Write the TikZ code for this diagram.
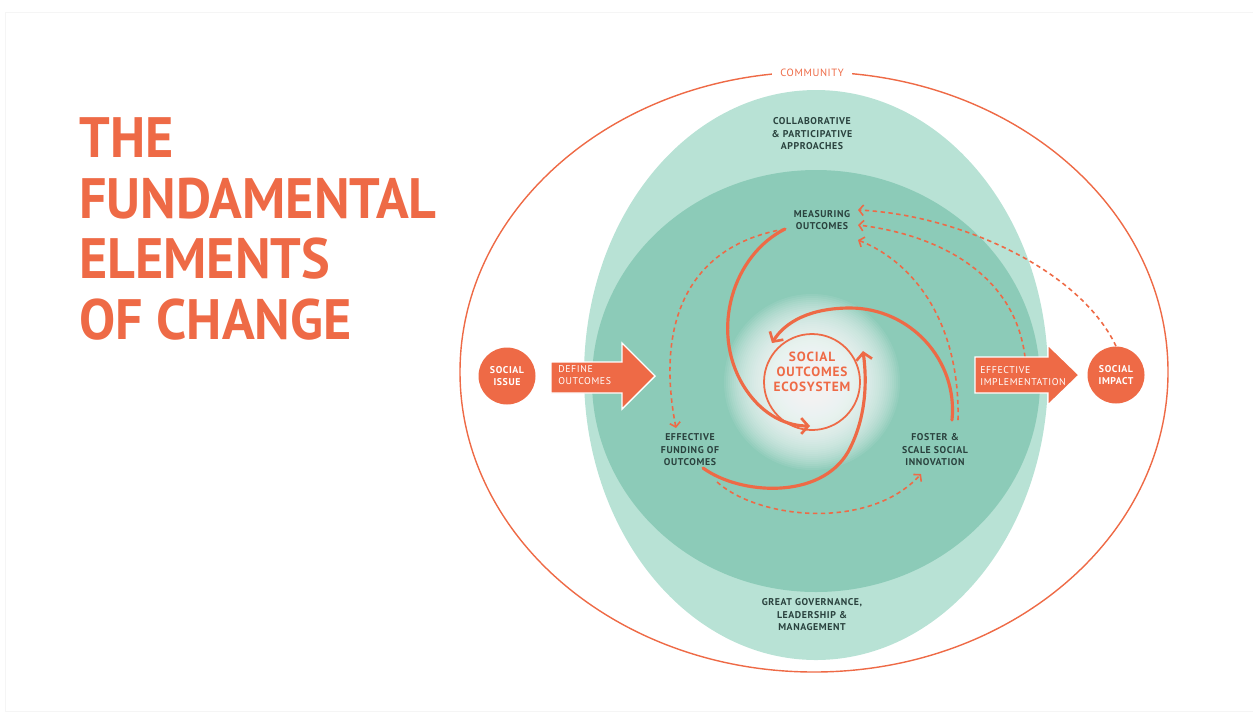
\documentclass[tikz,border=0pt]{standalone}
\usepackage{fontspec}
\setmainfont{PT Sans}
\newfontfamily\titlefont[FakeStretch=0.95]{PT Sans}
\newfontfamily\tagfont[LetterSpace=6]{PT Sans}
\usetikzlibrary{arrows.meta}
\definecolor{brick}{RGB}{238,106,70}
\definecolor{mint}{RGB}{184,226,213}
\definecolor{sea}{RGB}{140,203,184}
\definecolor{ink}{RGB}{42,66,62}

\begin{document}
\begin{tikzpicture}[x=0.02cm, y=-0.02cm,
    tag/.style={font=\tagfont\bfseries\fontsize{5.6}{7.1}\selectfont, text=ink, align=center, inner sep=0pt},
    bubble/.style={circle, fill=brick, text=white, minimum size=1.14cm, inner sep=0pt, align=center,
                   font=\tagfont\bfseries\fontsize{5.6}{7.1}\selectfont},
    blockarrow/.style={fill=brick, draw=white, line width=0.8pt},
    spiral/.style={brick, line width=1.8pt, line cap=round, -{Straight Barb[length=4pt,width=9pt,line width=1.5pt]}},
    feedback/.style={brick, line width=0.9pt, dash pattern=on 2.5pt off 2pt, -{Straight Barb[length=2.5pt,width=6pt]}}]

\useasboundingbox (0,0) rectangle (1253,711);
\draw[black!4] (5,12) rectangle (1253,711);

% Title
\node[anchor=north west, inner sep=0pt, align=left, text=brick,
      font=\titlefont\bfseries\fontsize{32.4}{34.6}\selectfont] (title) at (79,117)
      {THE\\FUNDAMENTAL\\ELEMENTS\\OF CHANGE};

% Community ring and the two green fields
\draw[brick, line width=0.8pt] (814,372) ellipse [x radius=354, y radius=300];
\node[fill=white, text=brick, inner xsep=5pt, inner ysep=1pt,
      font=\tagfont\fontsize{6}{7}\selectfont] (community) at (812,73) {COMMUNITY};
\fill[mint] (816,375) ellipse [x radius=232, y radius=285];
\fill[sea] (816,381) ellipse [x radius=224, y radius=211];

% Ecosystem core: stacked white discs give the soft glow
\foreach \r in {88,86,...,20}
  \fill[white, opacity=0.075] (812,382) circle (\r);
\draw[brick, line width=1pt] (812,382) circle (48);
\node[text=brick, align=center, inner sep=0pt,
      font=\tagfont\bfseries\fontsize{7.6}{8.6}\selectfont] (eco) at (812,372)
      {SOCIAL\\OUTCOMES\\ECOSYSTEM};

% Labels in the fields
\node[tag] (collab) at (812,134) {COLLABORATIVE\\\& PARTICIPATIVE\\APPROACHES};
\node[tag] (measure) at (822,220) {MEASURING\\OUTCOMES};
\node[tag] (funding) at (690,450) {EFFECTIVE\\FUNDING OF\\OUTCOMES};
\node[tag] (foster) at (935,450) {FOSTER \&\\SCALE SOCIAL\\INNOVATION};
\node[tag] (govern) at (812,615) {GREAT GOVERNANCE,\\LEADERSHIP \&\\MANAGEMENT};

% Social issue and social impact
\node[bubble] (issue) at (507,376) {SOCIAL\\ISSUE};
\node[bubble] (impact) at (1116,375) {SOCIAL\\IMPACT};

% Ends of the spiral arms and feedback loops
\coordinate (m1) at (858,210);
\coordinate (m2) at (858,225);
\coordinate (m3) at (858,240);
\coordinate (me-out) at (785,229);
\coordinate (fu-top) at (676,428);
\coordinate (fu-out) at (703,468);
\coordinate (fu-low) at (717,482);
\coordinate (fo-low) at (921,474);
\coordinate (fo-out) at (952,420);
\coordinate (fo-top) at (958,420);
\coordinate (im-top) at (1025,357);

% Spiral arms into the core
\draw[spiral] (me-out) .. controls (733,255) and (710,330) .. (743,385)
                       .. controls (763,418) and (790,426) .. (810,426);
\draw[spiral] (fu-out) .. controls (740,495) and (820,500) .. (848,452)
                       .. controls (864,423) and (868,388) .. (863,351);
\draw[spiral] (fo-out) .. controls (958,360) and (910,308) .. (850,308)
                       .. controls (810,308) and (785,322) .. (772,343);

% Feedback loops
\draw[feedback] (me-out) .. controls (690,245) and (655,320) .. (fu-top);
\draw[feedback] (fu-low) .. controls (760,520) and (870,530) .. (fo-low);
\draw[feedback] (fo-top) .. controls (960,330) and (920,265) .. (m3);
\draw[feedback] (im-top) .. controls (1015,275) and (940,235) .. (m2);
\draw[feedback] (impact.north) .. controls (1080,270) and (960,215) .. (m1);

% Way in and way out
\path[blockarrow] (551,362) -- (622,362) -- (622,343) -- (655,376) -- (622,409) -- (622,393) -- (551,393) -- cycle;
\node[tag, text=white, align=left, anchor=west, font=\tagfont\fontsize{5.6}{7.1}\selectfont] (define) at (558,375) {DEFINE\\OUTCOMES};
\path[blockarrow] (975,357) -- (1048,357) -- (1048,345) -- (1079,375) -- (1048,405) -- (1048,393) -- (975,393) -- cycle;
\node[tag, text=white, align=left, anchor=west, font=\tagfont\fontsize{5.6}{7.1}\selectfont] (implement) at (980,376) {EFFECTIVE\\IMPLEMENTATION};

\end{tikzpicture}
\end{document}
